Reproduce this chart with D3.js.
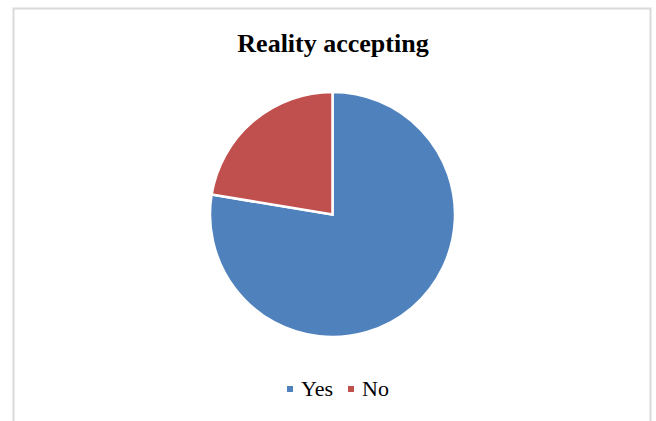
<!DOCTYPE html>
<html>
<head>
<meta charset="utf-8">
<script src="https://cdn.jsdelivr.net/npm/d3@7"></script>
<style>
  body { margin: 0; background: #fff; }
  svg { display: block; }
</style>
</head>
<body>
<div id="chart"></div>
<script>
// Chart data
const categories = ["Yes", "No"];
const values = [77.6, 22.4];
const colors = ["#4F81BD", "#C0504D"];
const title = "Reality accepting";

const width = 656, height = 421;

const svg = d3.select("#chart").append("svg")
  .attr("width", width)
  .attr("height", height);

// Chart area frame (bottom edge runs off the picture)
svg.append("rect")
  .attr("x", 13.5)
  .attr("y", 8.5)
  .attr("width", 637)
  .attr("height", 430)
  .attr("fill", "#fff")
  .attr("stroke", "#d9d9d9")
  .attr("stroke-width", 2);

// Title
svg.append("text")
  .attr("x", 333)
  .attr("y", 52)
  .attr("text-anchor", "middle")
  .style("font-family", "'Liberation Serif', 'Times New Roman', serif")
  .style("font-weight", "bold")
  .style("font-size", "26px")
  .attr("fill", "#000")
  .text(title);

// Pie
const data = categories.map((c, i) => ({ label: c, value: values[i] }));
const color = d3.scaleOrdinal().domain(categories).range(colors);

const pie = d3.pie()
  .value(d => d.value)
  .sort(null);

const arc = d3.arc()
  .innerRadius(0)
  .outerRadius(122.5);

const g = svg.append("g")
  .attr("transform", "translate(332.5,214.5)");

g.selectAll("path")
  .data(pie(data))
  .enter()
  .append("path")
  .attr("d", arc)
  .attr("fill", d => color(d.data.label))
  .attr("stroke", "#fff")
  .attr("stroke-width", 2.5)
  .attr("stroke-linejoin", "miter");

// Legend
const legendX = [287, 348];
const legend = svg.append("g").attr("class", "legend");

const item = legend.selectAll("g")
  .data(categories)
  .enter()
  .append("g")
  .attr("transform", (d, i) => `translate(${legendX[i]},396)`);

item.append("rect")
  .attr("x", 0)
  .attr("y", -10)
  .attr("width", 6)
  .attr("height", 6)
  .attr("fill", d => color(d));

item.append("text")
  .attr("x", 14)
  .attr("y", 0)
  .style("font-family", "'Liberation Serif', 'Times New Roman', serif")
  .style("font-size", "22px")
  .attr("fill", "#000")
  .text(d => d);
</script>
</body>
</html>
